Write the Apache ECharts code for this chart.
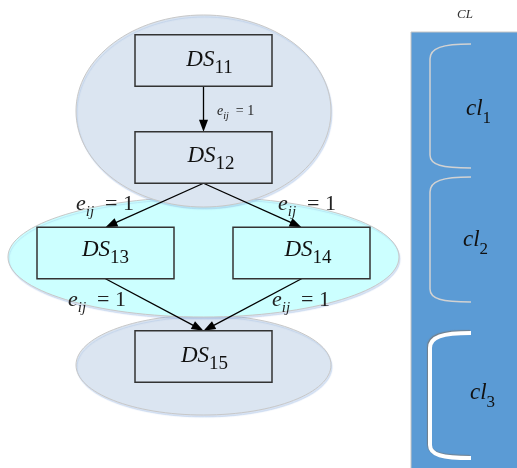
<!DOCTYPE html>
<html>
<head>
<meta charset="utf-8">
<script src="https://cdn.jsdelivr.net/npm/echarts@6/dist/echarts.min.js"></script>
<style>
html,body{margin:0;padding:0;background:#fff;}
#chart{width:517px;height:468px;}
</style>
</head>
<body>
<div id="chart"></div>
<script>
// ---------- data ----------
const nodeNames = ['DS11', 'DS12', 'DS13', 'DS14', 'DS15'];
const edgeFrom = ['DS11', 'DS12', 'DS12', 'DS13', 'DS14'];
const edgeTo = ['DS12', 'DS13', 'DS14', 'DS15', 'DS15'];
const edgeWeights = [1, 1, 1, 1, 1];
const clusterNames = ['cl1', 'cl2', 'cl3'];
const clusterMembers = [['DS11', 'DS12'], ['DS13', 'DS14'], ['DS15']];
const listTitle = 'CL';

// ---------- layout (diagram units) ----------
const BOX = [137, 51.5];
const nodePos = {DS11: [203.5, 60.5], DS12: [203.5, 157.5], DS13: [105.5, 253], DS14: [301.5, 253], DS15: [203.5, 356.5]};
const nodeLabelPos = {DS11: [209.5, 67], DS12: [211, 163], DS13: [105.5, 257], DS14: [308, 257], DS15: [204.5, 363]};
const ellipseLayout = {cl1: [203.5, 111, 127.5, 96], cl2: [203.5, 257, 195.5, 60], cl3: [203.5, 365, 127.5, 50]};
const edgeLabelLayout = [[217, 116, 14], [76, 211, 22], [278, 211, 22], [68, 307, 22], [272, 307, 22]];
const panelLayout = {x0: 411, y0: 32, x1: 530, y1: 480, titleX: 465, titleY: 19};
const braceLayout = {cl1: [44, 168], cl2: [177, 302], cl3: [333, 458]};
const braceX = [430, 471];
const clusterLabelPos = {cl1: [466, 116], cl2: [463, 247], cl3: [470, 400]};

// ---------- styles ----------
const FONT = '"Liberation Serif", "DejaVu Serif", serif';
const clusterFill = {cl1: '#dbe5f1', cl2: '#ccffff', cl3: '#dbe5f1'};
const clusterZ = {cl1: 2, cl2: 1, cl3: 0};
const braceStyle = {
  cl1: {stroke: '#d2d2d2', lineWidth: 1.5},
  cl2: {stroke: '#d2d2d2', lineWidth: 1.5},
  cl3: {stroke: '#ffffff', lineWidth: 4, shadowColor: 'rgba(120,120,120,0.8)', shadowBlur: 1, shadowOffsetX: -1, shadowOffsetY: -1}
};

const mctx = document.createElement('canvas').getContext('2d');
function fontStr(p) { return (p.italic ? 'italic ' : '') + p.size + 'px ' + FONT; }
function textW(p) { mctx.font = fontStr(p); return mctx.measureText(p.t).width; }
// build text pieces laid out along a baseline; (x, base) in pixels
function richPieces(x, base, parts, align) {
  let total = 0;
  parts.forEach(p => { p.w = textW(p); total += p.w; });
  let cx = align === 'center' ? x - total / 2 : x;
  const els = [];
  parts.forEach(p => {
    els.push({
      type: 'text', x: cx, y: base + (p.dy || 0) - 0.32 * p.size, z2: 20,
      style: {text: p.t, fontSize: p.size, fontFamily: FONT, fontStyle: p.italic ? 'italic' : 'normal',
        fill: p.fill || '#111', align: 'left', verticalAlign: 'middle'}
    });
    cx += p.w;
  });
  return els;
}
function clusterOf(name) {
  for (let i = 0; i < clusterMembers.length; i++) if (clusterMembers[i].indexOf(name) >= 0) return clusterNames[i];
  return clusterNames[0];
}

const chart = echarts.init(document.getElementById('chart'), null, {renderer: 'canvas'});

const option = {
  animation: false,
  backgroundColor: '#ffffff',
  grid: {left: 0, right: 0, top: 0, bottom: 0},
  xAxis: {type: 'value', min: 0, max: 517, show: false},
  yAxis: {type: 'value', min: 0, max: 468, inverse: true, show: false},
  series: [
    { // cluster ellipses
      type: 'custom', coordinateSystem: 'cartesian2d', clip: false, z: 1,
      data: clusterNames.map((n, i) => [i]),
      renderItem: function (params, api) {
        const name = clusterNames[params.dataIndex];
        const L = ellipseLayout[name];
        const c = api.coord([L[0], L[1]]);
        const s = api.size([L[2], L[3]]);
        return {
          type: 'ellipse', z2: clusterZ[name],
          shape: {cx: c[0], cy: c[1], rx: s[0], ry: s[1]},
          style: {fill: clusterFill[name], stroke: '#c8c8c8', lineWidth: 1,
            shadowColor: 'rgba(130,165,220,0.3)', shadowBlur: 1, shadowOffsetX: 1, shadowOffsetY: 2}
        };
      }
    },
    { // edges
      type: 'custom', coordinateSystem: 'cartesian2d', clip: false, z: 3,
      data: edgeFrom.map((f, i) => [i]),
      renderItem: function (params, api) {
        const i = params.dataIndex;
        const a = nodePos[edgeFrom[i]], b = nodePos[edgeTo[i]];
        const p0 = api.coord([a[0], a[1] + BOX[1] / 2]);
        const p1 = api.coord([b[0], b[1] - BOX[1] / 2]);
        const dx = p1[0] - p0[0], dy = p1[1] - p0[1];
        const len = Math.sqrt(dx * dx + dy * dy);
        const ux = dx / len, uy = dy / len;
        const AL = 12, AW = 4.5;
        const bx = p1[0] - ux * AL, by = p1[1] - uy * AL;
        const children = [
          {type: 'line', shape: {x1: p0[0], y1: p0[1], x2: bx + ux * 2, y2: by + uy * 2}, style: {stroke: '#000', lineWidth: 1.3}},
          {type: 'polygon', shape: {points: [[p1[0], p1[1]], [bx - uy * AW, by + ux * AW], [bx + uy * AW, by - ux * AW]]}, style: {fill: '#000'}}
        ];
        const LL = edgeLabelLayout[i];
        const lp = api.coord([LL[0], LL[1]]);
        const S = LL[2];
        richPieces(lp[0], lp[1], [
          {t: 'e', size: S, italic: true, fill: '#222'},
          {t: 'ij', size: Math.round(S * 0.7), italic: true, dy: S * 0.27, fill: '#222'},
          {t: '  = ' + edgeWeights[i], size: S, italic: false, fill: '#222'}
        ], 'left').forEach(e => children.push(e));
        return {type: 'group', children: children};
      }
    },
    { // nodes
      type: 'custom', coordinateSystem: 'cartesian2d', clip: false, z: 4,
      data: nodeNames.map((n, i) => [i]),
      renderItem: function (params, api) {
        const name = nodeNames[params.dataIndex];
        const p = nodePos[name];
        const tl = api.coord([p[0] - BOX[0] / 2, p[1] - BOX[1] / 2]);
        const sz = api.size(BOX);
        const lp = api.coord(nodeLabelPos[name]);
        const children = [{
          type: 'rect', shape: {x: tl[0], y: tl[1], width: sz[0], height: sz[1]},
          style: {fill: clusterFill[clusterOf(name)], stroke: '#333', lineWidth: 1.5}
        }];
        richPieces(lp[0], lp[1], [
          {t: name.slice(0, 2), size: 23, italic: true},
          {t: name.slice(2), size: 19, italic: false, dy: 7}
        ], 'center').forEach(e => children.push(e));
        return {type: 'group', children: children};
      }
    },
    { // CL panel
      type: 'custom', coordinateSystem: 'cartesian2d', clip: false, z: 1,
      data: [[0]],
      renderItem: function (params, api) {
        const tl = api.coord([panelLayout.x0, panelLayout.y0]);
        const br = api.coord([panelLayout.x1, panelLayout.y1]);
        const tp = api.coord([panelLayout.titleX, panelLayout.titleY]);
        return {type: 'group', children: [
          {type: 'rect', shape: {x: tl[0], y: tl[1], width: br[0] - tl[0], height: br[1] - tl[1]},
            style: {fill: '#5b9bd5', stroke: '#c6c6c6', lineWidth: 1}},
          {type: 'text', x: tp[0], y: tp[1] - 0.32 * 13,
            style: {text: listTitle, fontSize: 13, fontFamily: FONT, fontStyle: 'italic', fill: '#333', align: 'center', verticalAlign: 'middle'}}
        ]};
      }
    },
    { // braces with cluster labels
      type: 'custom', coordinateSystem: 'cartesian2d', clip: false, z: 2,
      data: clusterNames.map((n, i) => [i]),
      renderItem: function (params, api) {
        const name = clusterNames[params.dataIndex];
        const r = braceLayout[name];
        const x0 = braceX[0], x1 = braceX[1];
        const P = (x, y) => api.coord([x, y]).map(v => v.toFixed(2)).join(' ');
        const d = 'M' + P(x1, r[0]) + ' C' + P(x0 + 12, r[0]) + ' ' + P(x0, r[0] + 4) + ' ' + P(x0, r[0] + 15) +
          ' L' + P(x0, r[1] - 13) + ' C' + P(x0, r[1] - 3) + ' ' + P(x0 + 12, r[1]) + ' ' + P(x1, r[1]);
        const st = Object.assign({fill: null}, braceStyle[name]);
        const children = [{type: 'path', shape: {pathData: d}, style: st}];
        const lp = api.coord(clusterLabelPos[name]);
        richPieces(lp[0], lp[1], [
          {t: name.slice(0, 2), size: 23, italic: true},
          {t: name.slice(2), size: 17, italic: false, dy: 7.5}
        ], 'left').forEach(e => children.push(e));
        return {type: 'group', children: children};
      }
    }
  ]
};
chart.setOption(option);
</script>
</body>
</html>
